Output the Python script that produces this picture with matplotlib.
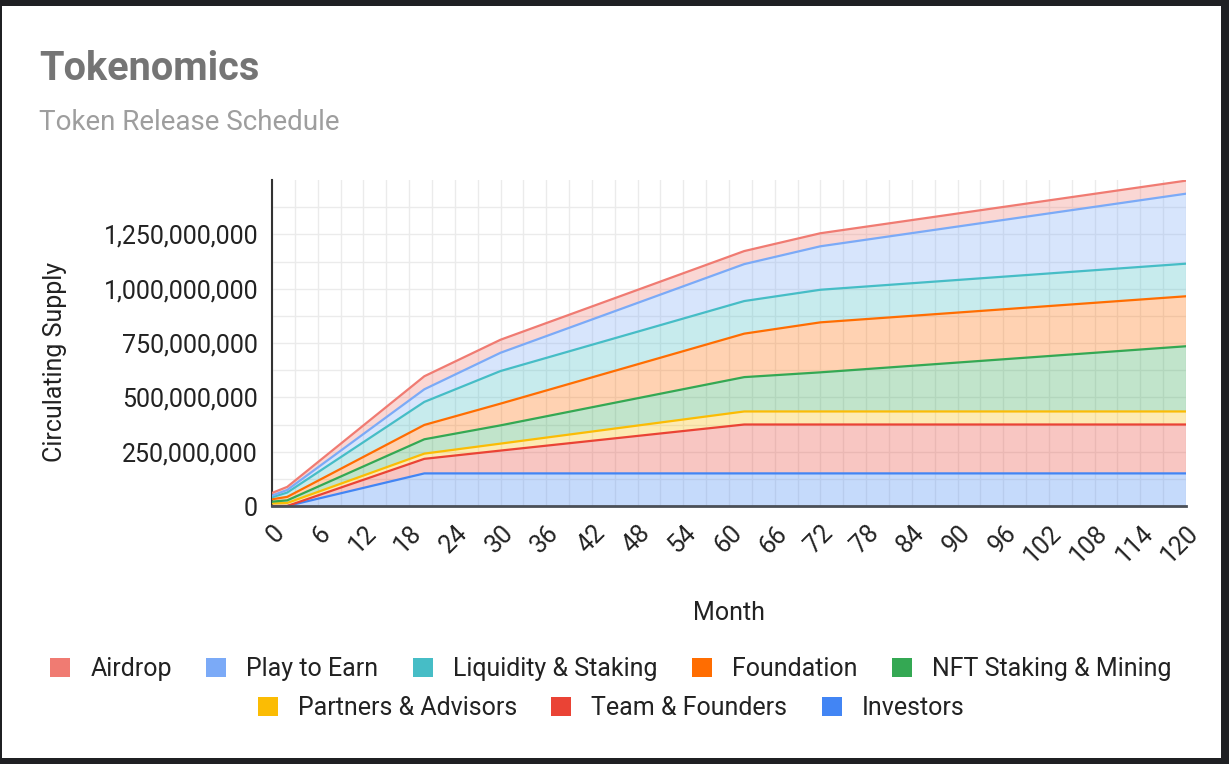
import matplotlib.pyplot as plt
import matplotlib.ticker as mticker
from matplotlib.patches import Patch, Rectangle
from matplotlib.transforms import ScaledTranslation
import numpy as np

plt.rcParams['font.family'] = ['Roboto', 'DejaVu Sans']

# data (millions of tokens, cumulative per series)
months = [0, 2, 20, 30, 62, 72, 120]
investors = [0, 0, 150, 150, 150, 150, 150]
team = [0, 0, 67, 105, 225, 225, 225]
partners = [12, 14, 24, 32, 60, 60, 60]
nft = [8, 12, 66, 84, 158, 180, 300]
foundation = [11, 16, 66, 100, 200, 230, 230]
liquidity = [9, 20, 106, 150, 150, 150, 150]
play_to_earn = [8, 12, 58, 84, 170, 200, 322]
airdrop = [12, 14, 60, 60, 60, 60, 60]

names = ["Investors", "Team & Founders", "Partners & Advisors", "NFT Staking & Mining",
         "Foundation", "Liquidity & Staking", "Play to Earn", "Airdrop"]
colors = ["#4285f4", "#ea4335", "#fbbc04", "#34a853",
          "#ff6d01", "#46bdc6", "#7baaf7", "#f07b72"]

series = np.array([investors, team, partners, nft, foundation,
                   liquidity, play_to_earn, airdrop], dtype=float) * 1e6
x = np.array(months)
tops = np.cumsum(series, axis=0)

fig = plt.figure(figsize=(12.29, 7.64), dpi=100, facecolor="#1f2023")
fig.patches.append(Rectangle((2 / 1229, 6 / 764), 1219 / 1229, 752 / 764,
                             transform=fig.transFigure, facecolor="white",
                             edgecolor="none", zorder=-10))

ax = fig.add_axes([272 / 1229, 1 - 506 / 764, 914 / 1229, 326 / 764])
ax.set_facecolor("none")
ax.set_zorder(2)

ax.stackplot(x, series, colors=colors, alpha=0.3, linewidth=0, zorder=2)
for top, c in zip(tops, colors):
    ax.plot(x, top, color=c, lw=1.6, zorder=3, solid_joinstyle="round")

ax.set_xlim(0, 120)
ax.set_ylim(0, 1.5e9)
ax.set_xticks(np.arange(0, 121, 6))
ax.set_xticks(np.arange(3, 120, 6), minor=True)
ax.set_yticks(np.arange(0, 1.26e9, 2.5e8))
ax.set_yticks(np.arange(1.25e8, 1.4e9, 2.5e8), minor=True)
ax.yaxis.set_major_formatter(mticker.FuncFormatter(lambda v, p: f"{v:,.0f}"))
ax.grid(True, which="both", color="#ebebeb", lw=1, zorder=1)
ax.set_axisbelow(True)

for s in ["top", "right"]:
    ax.spines[s].set_visible(False)
ax.spines["left"].set_color("#333333")
ax.spines["left"].set_linewidth(1.5)
ax.spines["bottom"].set_color("#4a4f57")
ax.spines["bottom"].set_linewidth(2)
ax.spines["bottom"].set_zorder(4)

ax.tick_params(which="both", length=0)
ax.tick_params(axis="y", pad=10, labelsize=18, labelcolor="#222222")
ax.tick_params(axis="x", pad=17, labelsize=18, labelcolor="#222222")
shift = ScaledTranslation(9 / 100, 0, fig.dpi_scale_trans)
for lab in ax.get_xticklabels():
    lab.set_rotation(45)
    lab.set_ha("right")
    lab.set_va("center")
    lab.set_rotation_mode("anchor")
    lab.set_transform(lab.get_transform() + shift)

fig.text(39 / 1229, 1 - 69 / 764, "Tokenomics", fontsize=28.6, fontweight="bold",
         color="#757575", ha="left", va="center")
fig.text(39 / 1229, 1 - 123 / 764, "Token Release Schedule", fontsize=20,
         color="#9e9e9e", ha="left", va="center")
fig.text(729 / 1229, 1 - 613 / 764, "Month", fontsize=18, color="#222222",
         ha="center", va="center")
fig.text(55 / 1229, 1 - 362 / 764, "Circulating Supply", fontsize=18, color="#222222",
         ha="center", va="center", rotation=90)

handles = [Patch(facecolor=c, edgecolor="none") for c in colors]
order = list(range(7, -1, -1))
row1 = order[:5]
row2 = order[5:]
leg_kw = dict(frameon=False, fontsize=18, handlelength=0.8, handleheight=0.8,
              handletextpad=0.8, columnspacing=1.38, borderaxespad=0, labelcolor="#222222")
leg1 = fig.legend([handles[i] for i in row1], [names[i] for i in row1], ncol=5,
                  loc="center", bbox_to_anchor=(611 / 1229, 1 - 669 / 764), **leg_kw)
leg2 = fig.legend([handles[i] for i in row2], [names[i] for i in row2], ncol=3,
                  loc="center", bbox_to_anchor=(611 / 1229, 1 - 708 / 764), **leg_kw)

fig.savefig("out.png", dpi=100, facecolor=fig.get_facecolor())
